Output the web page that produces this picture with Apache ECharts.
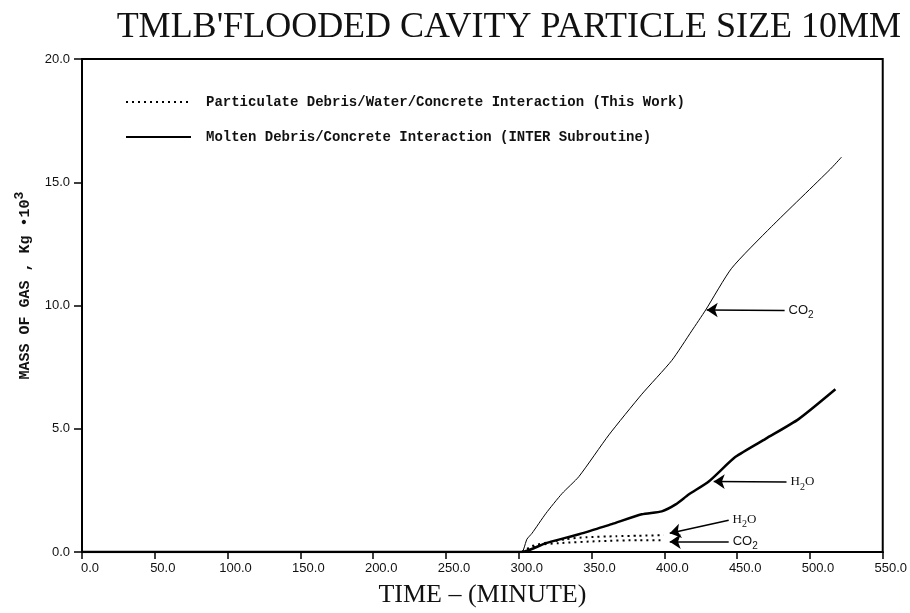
<!DOCTYPE html>
<html><head><meta charset="utf-8">
<script src="https://cdn.jsdelivr.net/npm/echarts@6/dist/echarts.min.js"></script>
<style>html,body{margin:0;padding:0;background:#fff}#c{width:910px;height:613px}</style>
</head><body><div id="c"></div>
<script>
const titleText = "TMLB'FLOODED CAVITY PARTICLE SIZE 10MM";
const xAxisTitle = "TIME \u2013 (MINUTE)";
const yAxisTitle = "MASS OF GAS , Kg \u202210{sup|3}";
const legendNames = ["Particulate Debris/Water/Concrete Interaction (This Work)", "Molten Debris/Concrete Interaction (INTER Subroutine)"];

// Molten debris (INTER subroutine) – CO2 (thin line)
const moltenCO2Time = [0, 302.2, 303.6, 305.6, 309.1, 318.7, 329.7, 341.3, 361.9, 384.5, 405.1, 418.8, 428.4, 446.2, 473.6, 514.0, 521.7];
const moltenCO2Mass = [0, 0, 0.16, 0.52, 0.76, 1.57, 2.37, 3.06, 4.75, 6.40, 7.77, 8.97, 9.82, 11.51, 13.20, 15.53, 16.02];
// Molten debris – H2O (thick line)
const moltenH2OTime = [0, 302.2, 318.7, 341.3, 355.0, 363.9, 384.5, 398.2, 407.8, 416.7, 430.5, 448.9, 469.5, 492.2, 517.5];
const moltenH2OMass = [0, 0, 0.36, 0.72, 0.97, 1.13, 1.53, 1.65, 1.93, 2.33, 2.86, 3.86, 4.59, 5.39, 6.60];
// Particulate debris (this work) – H2O (dotted)
const partH2OTime = [302.2, 309.1, 320.8, 332.4, 346.1, 366.7, 382.4, 399.6];
const partH2OMass = [0, 0.24, 0.40, 0.52, 0.60, 0.64, 0.66, 0.68];
// Particulate debris – CO2 (dotted)
const partCO2Time = [302.2, 313.9, 327.6, 355.0, 382.4, 399.6];
const partCO2Mass = [0, 0.28, 0.36, 0.44, 0.48, 0.48];

// Arrow annotations
const arrowLabels = ["CO2", "H2O", "H2O_p", "CO2_p"];
const arrowTail = [[482.6, 9.80], [483.9, 2.84], [444.2, 1.29], [444.2, 0.42]];
const arrowHead = [[429.1, 9.82], [433.9, 2.86], [403.7, 0.76], [403.7, 0.42]];

const zip = (a, b) => a.map((v, i) => [v, b[i]]);
const chart = echarts.init(document.getElementById('c'), null, {renderer: 'canvas'});

const labelRich = {
  CO2: '{s|CO}{sub|2}',
  H2O: '{t|H}{tsub|2}{t|O}',
  H2O_p: '{t|H}{tsub|2}{t|O}',
  CO2_p: '{s|CO}{sub|2}'
};

chart.setOption({
  animation: false,
  backgroundColor: '#fff',
  title: {
    text: titleText, right: 4, top: 5,
    textStyle: {fontFamily: 'Liberation Serif', fontWeight: 'normal', fontSize: 36, color: '#111'}
  },
  legend: {
    orient: 'vertical', left: 120, top: 90,
    itemWidth: 65, itemHeight: 14, itemGap: 21,
    data: legendNames,
    itemStyle: {opacity: 0},
    textStyle: {fontFamily: 'Liberation Mono', fontWeight: 'bold', fontSize: 14, color: '#111', padding: [0, 0, 0, 10]}
  },
  grid: {left: 82, right: 26, top: 59, bottom: 57, show: true, borderColor: '#000', borderWidth: 2, backgroundColor: 'transparent'},
  xAxis: {
    type: 'value', min: 0, max: 550, interval: 50,
    name: xAxisTitle, nameLocation: 'middle', nameGap: 30,
    nameTextStyle: {fontFamily: 'Liberation Serif', fontSize: 26, color: '#111'},
    axisLine: {lineStyle: {color: '#000', width: 2}},
    axisTick: {length: 7, lineStyle: {color: '#000', width: 1.5}},
    axisLabel: {formatter: v => v.toFixed(1), fontFamily: 'Liberation Sans', fontSize: 13, color: '#111', margin: 10, padding: [0, 0, 0, 16]},
    splitLine: {show: false}
  },
  yAxis: {
    type: 'value', min: 0, max: 20, interval: 5,
    name: yAxisTitle, nameLocation: 'middle', nameGap: 44,
    nameTextStyle: {fontFamily: 'Liberation Mono', fontWeight: 'bold', fontSize: 15, color: '#111', padding: [0, 0, 0, 40],
      rich: {sup: {fontFamily: 'Liberation Mono', fontWeight: 'bold', fontSize: 13, padding: [0, 0, 12, 0]}}},
    axisLine: {lineStyle: {color: '#000', width: 2}},
    axisTick: {length: 8, lineStyle: {color: '#000', width: 1.5}},
    axisLabel: {formatter: v => v.toFixed(1), fontFamily: 'Liberation Sans', fontSize: 13, color: '#111', margin: 12},
    splitLine: {show: false}
  },
  series: [
    {
      name: legendNames[1], type: 'line', data: zip(moltenH2OTime, moltenH2OMass),
      showSymbol: false, symbol: 'none', smooth: 0.2,
      itemStyle: {color: '#000'},
      lineStyle: {color: '#000', width: 2.5}, z: 3,
      markLine: {
        silent: true, symbol: ['none', 'arrow'], symbolSize: 11,
        itemStyle: {color: '#000'},
        lineStyle: {color: '#000', width: 1.6, type: 'solid'},
        label: {
          show: true, position: 'start', distance: 4, color: '#111',
          formatter: p => labelRich[p.name],
          rich: {
            s: {fontFamily: 'Liberation Sans', fontSize: 13, color: '#111'},
            sub: {fontFamily: 'Liberation Sans', fontSize: 10, color: '#111', padding: [10, 0, 0, 0]},
            t: {fontFamily: 'Liberation Serif', fontSize: 13, color: '#111'},
            tsub: {fontFamily: 'Liberation Serif', fontSize: 10, color: '#111', padding: [10, 0, 0, 0]}
          }
        },
        data: arrowLabels.map((n, i) => [{name: n, coord: arrowTail[i]}, {coord: arrowHead[i]}])
      }
    },
    {
      name: legendNames[1], type: 'line', data: zip(moltenCO2Time, moltenCO2Mass),
      showSymbol: false, symbol: 'none', smooth: 0.2,
      itemStyle: {color: '#000'},
      lineStyle: {color: '#000', width: 1}, z: 2
    },
    {
      name: legendNames[0], type: 'line', data: zip(partH2OTime, partH2OMass),
      showSymbol: false, symbol: 'none', smooth: 0.2,
      itemStyle: {color: '#000'},
      lineStyle: {color: '#000', width: 2, type: [2, 4]}, z: 2
    },
    {
      name: legendNames[0], type: 'line', data: zip(partCO2Time, partCO2Mass),
      showSymbol: false, symbol: 'none', smooth: 0.2,
      itemStyle: {color: '#000'},
      lineStyle: {color: '#000', width: 2, type: [2, 4]}, z: 2
    }
  ]
});
</script></body></html>
